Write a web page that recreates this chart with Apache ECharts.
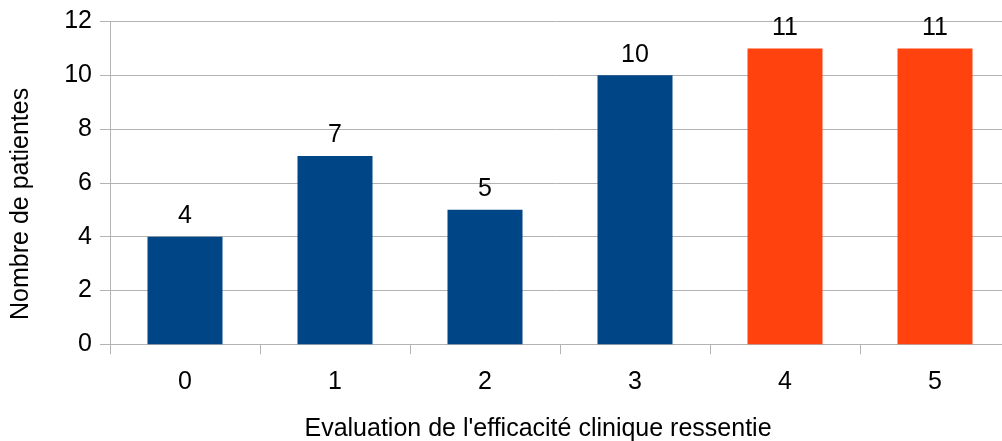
<!DOCTYPE html>
<html>
<head>
<meta charset="utf-8">
<script src="https://cdn.jsdelivr.net/npm/echarts@6/dist/echarts.min.js"></script>
<style>
  html, body { margin: 0; padding: 0; background: #fff; }
  #chart { width: 1002px; height: 441px; }
</style>
</head>
<body>
<div id="chart"></div>
<script>
  var categories = ["0", "1", "2", "3", "4", "5"];
  var patients = [4, 7, 5, 10, 11, 11];
  var barColors = ["#004586", "#004586", "#004586", "#004586", "#ff420e", "#ff420e"];

  var myChart = echarts.init(document.getElementById("chart"));
  var font = "'Liberation Sans', Arial, sans-serif";

  var option = {
    animation: false,
    grid: {
      left: 110, right: -8, top: 21.5, bottom: 96.7,
      containLabel: false,
      outerBoundsMode: "none"
    },
    xAxis: {
      type: "category",
      data: categories,
      name: "Evaluation de l'efficacité clinique ressentie",
      nameLocation: "middle",
      nameGap: 72,
      nameTextStyle: { fontFamily: font, fontSize: 25, color: "#000", padding: [0, 44, 0, 0] },
      axisLine: { lineStyle: { color: "#b3b3b3", width: 1 } },
      axisTick: { show: true, length: 10, lineStyle: { color: "#b3b3b3" } },
      axisLabel: { fontFamily: font, fontSize: 25, color: "#000", margin: 25 }
    },
    yAxis: {
      type: "value",
      min: 0,
      max: 12,
      interval: 2,
      name: "Nombre de patientes",
      nameLocation: "middle",
      nameRotate: 90,
      nameGap: 76,
      nameTextStyle: { fontFamily: font, fontSize: 25, color: "#000", padding: [0, 42, 0, 0] },
      axisLine: { show: true, lineStyle: { color: "#b3b3b3", width: 1 } },
      axisTick: { show: true, length: 10, lineStyle: { color: "#b3b3b3" } },
      splitLine: { lineStyle: { color: "#b3b3b3", width: 1 } },
      axisLabel: { fontFamily: font, fontSize: 25, color: "#000", margin: 18 }
    },
    series: [
      {
        type: "bar",
        barWidth: "50%",
        data: patients.map(function (v, i) {
          return { value: v, itemStyle: { color: barColors[i] } };
        }),
        label: {
          show: true,
          position: "top",
          distance: 8,
          fontFamily: font,
          fontSize: 25,
          color: "#000"
        }
      }
    ]
  };

  myChart.setOption(option);
</script>
</body>
</html>
